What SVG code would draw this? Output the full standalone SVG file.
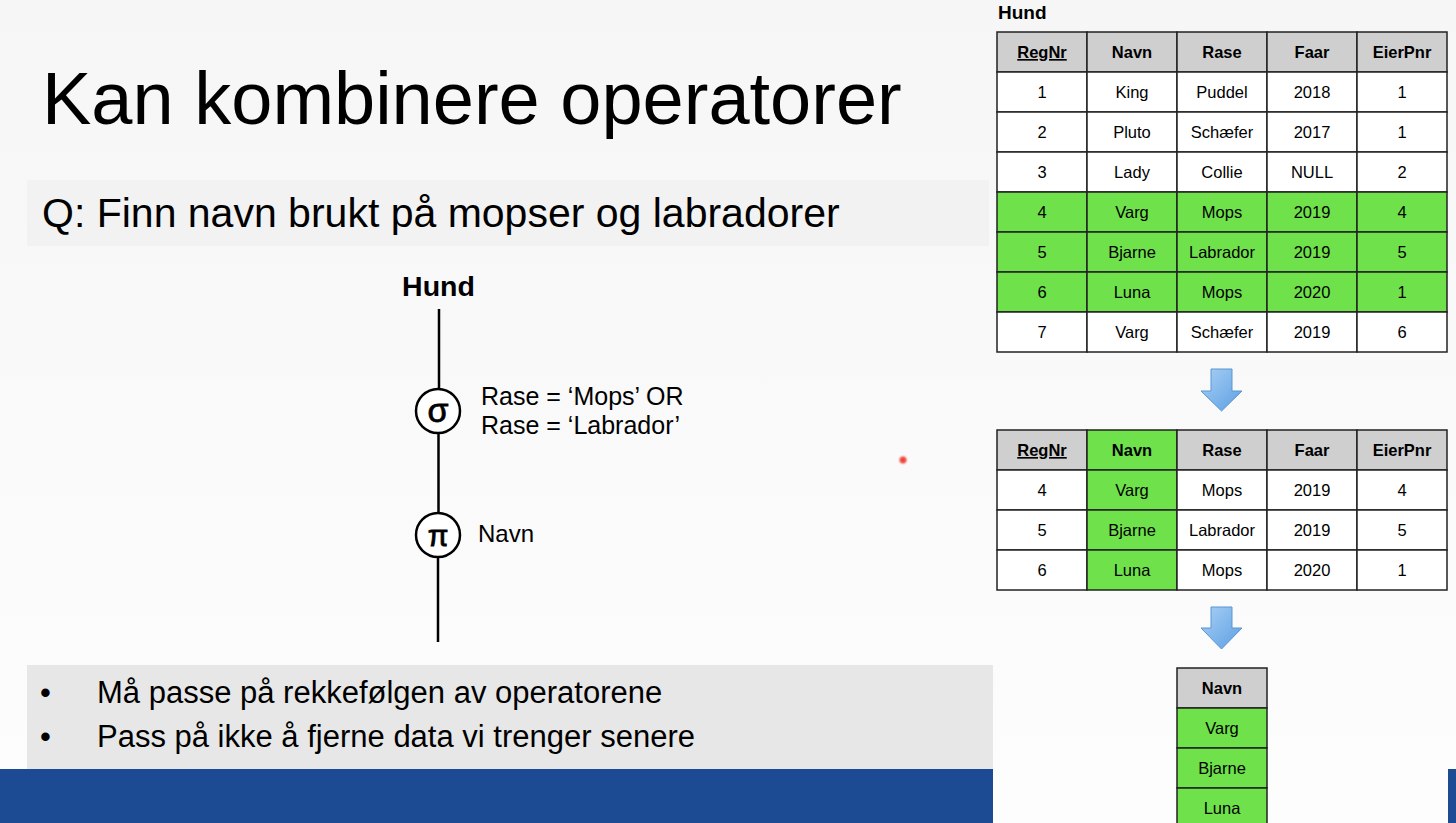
<svg xmlns="http://www.w3.org/2000/svg" width="1456" height="823" viewBox="0 0 1456 823">
  <defs>
    <linearGradient id="bg" x1="0" y1="0" x2="0" y2="1">
      <stop offset="0" stop-color="#f6f6f6"/>
      <stop offset="1" stop-color="#fdfdfd"/>
    </linearGradient>
    <linearGradient id="arrowFill" x1="0" y1="0" x2="1" y2="1">
      <stop offset="0" stop-color="#a9d0f5"/>
      <stop offset="1" stop-color="#5c9fe2"/>
    </linearGradient>
    <radialGradient id="dot">
      <stop offset="0" stop-color="#e8332a"/>
      <stop offset="0.45" stop-color="#f06a60"/>
      <stop offset="1" stop-color="#ffffff" stop-opacity="0"/>
    </radialGradient>
    <style>
      .sans { font-family: "Liberation Sans", Arial, sans-serif; fill: #000; }
      .cell { stroke: #222; stroke-width: 1.5; }
      .hdr { fill: #cfcfcf; }
      .wht { fill: #ffffff; }
      .grn { fill: #6fe14b; }
      .th { font-family: "Liberation Sans", Arial, sans-serif; font-size: 16.5px; font-weight: bold; text-anchor: middle; }
      .td { font-family: "Liberation Sans", Arial, sans-serif; font-size: 16.5px; text-anchor: middle; }
      .edge { stroke: #000; stroke-width: 2.5; fill: none; }
      .op { fill: #fff; stroke: #000; stroke-width: 2.5; }
      .flow { fill: url(#arrowFill); stroke: #5a95d3; stroke-width: 1; }
    </style>
  </defs>

  <!-- slide background -->
  <rect x="0" y="0" width="1456" height="823" fill="url(#bg)"/>

  <!-- title -->
  <text class="sans" x="42" y="124" font-size="74">Kan kombinere operatorer</text>

  <!-- question -->
  <rect x="27" y="180" width="962" height="66" fill="#f2f2f2"/>
  <text class="sans" x="42" y="227" font-size="41">Q: Finn navn brukt på mopser og labradorer</text>

  <!-- bullet box and footer band -->
  <rect x="27" y="665" width="966" height="104" fill="#e7e7e7"/>
  <text class="sans" x="40" y="703" font-size="31">•</text>
  <text class="sans" x="97" y="703" font-size="31">Må passe på rekkefølgen av operatorene</text>
  <text class="sans" x="40" y="747" font-size="31">•</text>
  <text class="sans" x="97" y="747" font-size="31">Pass på ikke å fjerne data vi trenger senere</text>
  <rect x="0" y="769" width="993" height="54" fill="#1c4b94"/>
  <rect x="1448" y="769" width="8" height="54" fill="#1c4b94"/>

  <!-- query tree connectors -->
  <g id="connectors">
    <line class="edge" x1="439" y1="309" x2="439" y2="389"/>
    <line class="edge" x1="438.5" y1="433" x2="438.5" y2="513"/>
    <line class="edge" x1="438" y1="557" x2="438" y2="642"/>
  </g>

  <!-- query tree nodes -->
  <g id="node-hund">
    <text class="sans" x="438.5" y="296" font-size="28.5" font-weight="bold" text-anchor="middle">Hund</text>
  </g>
  <g id="node-select">
    <circle class="op" cx="438" cy="411" r="22"/>
    <text class="sans" x="438" y="422" font-size="34" text-anchor="middle" stroke="#000" stroke-width="0.8">σ</text>
    <text class="sans" x="481" y="405" font-size="25">Rase = ‘Mops’ OR</text>
    <text class="sans" x="481" y="434" font-size="25">Rase = ‘Labrador’</text>
  </g>
  <g id="node-project">
    <circle class="op" cx="438" cy="535" r="22"/>
    <text class="sans" x="438" y="546" font-size="30" text-anchor="middle" stroke="#000" stroke-width="0.8">π</text>
    <text class="sans" x="478" y="542" font-size="24">Navn</text>
  </g>

  <!-- pointer dot -->
  <circle cx="903" cy="460" r="6" fill="url(#dot)"/>

  <!-- input relation -->
  <g id="table-hund">
    <text class="sans" x="998" y="19" font-size="19" font-weight="bold">Hund</text>
    <g class="cell">
      <rect class="hdr" x="997" y="32" width="90" height="40"/>
      <rect class="hdr" x="1087" y="32" width="90" height="40"/>
      <rect class="hdr" x="1177" y="32" width="90" height="40"/>
      <rect class="hdr" x="1267" y="32" width="90" height="40"/>
      <rect class="hdr" x="1357" y="32" width="90" height="40"/>

      <rect class="wht" x="997" y="72" width="90" height="40"/>
      <rect class="wht" x="1087" y="72" width="90" height="40"/>
      <rect class="wht" x="1177" y="72" width="90" height="40"/>
      <rect class="wht" x="1267" y="72" width="90" height="40"/>
      <rect class="wht" x="1357" y="72" width="90" height="40"/>

      <rect class="wht" x="997" y="112" width="90" height="40"/>
      <rect class="wht" x="1087" y="112" width="90" height="40"/>
      <rect class="wht" x="1177" y="112" width="90" height="40"/>
      <rect class="wht" x="1267" y="112" width="90" height="40"/>
      <rect class="wht" x="1357" y="112" width="90" height="40"/>

      <rect class="wht" x="997" y="152" width="90" height="40"/>
      <rect class="wht" x="1087" y="152" width="90" height="40"/>
      <rect class="wht" x="1177" y="152" width="90" height="40"/>
      <rect class="wht" x="1267" y="152" width="90" height="40"/>
      <rect class="wht" x="1357" y="152" width="90" height="40"/>

      <rect class="grn" x="997" y="192" width="90" height="40"/>
      <rect class="grn" x="1087" y="192" width="90" height="40"/>
      <rect class="grn" x="1177" y="192" width="90" height="40"/>
      <rect class="grn" x="1267" y="192" width="90" height="40"/>
      <rect class="grn" x="1357" y="192" width="90" height="40"/>

      <rect class="grn" x="997" y="232" width="90" height="40"/>
      <rect class="grn" x="1087" y="232" width="90" height="40"/>
      <rect class="grn" x="1177" y="232" width="90" height="40"/>
      <rect class="grn" x="1267" y="232" width="90" height="40"/>
      <rect class="grn" x="1357" y="232" width="90" height="40"/>

      <rect class="grn" x="997" y="272" width="90" height="40"/>
      <rect class="grn" x="1087" y="272" width="90" height="40"/>
      <rect class="grn" x="1177" y="272" width="90" height="40"/>
      <rect class="grn" x="1267" y="272" width="90" height="40"/>
      <rect class="grn" x="1357" y="272" width="90" height="40"/>

      <rect class="wht" x="997" y="312" width="90" height="40"/>
      <rect class="wht" x="1087" y="312" width="90" height="40"/>
      <rect class="wht" x="1177" y="312" width="90" height="40"/>
      <rect class="wht" x="1267" y="312" width="90" height="40"/>
      <rect class="wht" x="1357" y="312" width="90" height="40"/>
    </g>
    <text class="th" x="1042" y="58" text-decoration="underline">RegNr</text>
    <text class="th" x="1132" y="58">Navn</text>
    <text class="th" x="1222" y="58">Rase</text>
    <text class="th" x="1312" y="58">Faar</text>
    <text class="th" x="1402" y="58">EierPnr</text>

    <text class="td" x="1042" y="98">1</text><text class="td" x="1132" y="98">King</text><text class="td" x="1222" y="98">Puddel</text><text class="td" x="1312" y="98">2018</text><text class="td" x="1402" y="98">1</text>
    <text class="td" x="1042" y="138">2</text><text class="td" x="1132" y="138">Pluto</text><text class="td" x="1222" y="138">Schæfer</text><text class="td" x="1312" y="138">2017</text><text class="td" x="1402" y="138">1</text>
    <text class="td" x="1042" y="178">3</text><text class="td" x="1132" y="178">Lady</text><text class="td" x="1222" y="178">Collie</text><text class="td" x="1312" y="178">NULL</text><text class="td" x="1402" y="178">2</text>
    <text class="td" x="1042" y="218">4</text><text class="td" x="1132" y="218">Varg</text><text class="td" x="1222" y="218">Mops</text><text class="td" x="1312" y="218">2019</text><text class="td" x="1402" y="218">4</text>
    <text class="td" x="1042" y="258">5</text><text class="td" x="1132" y="258">Bjarne</text><text class="td" x="1222" y="258">Labrador</text><text class="td" x="1312" y="258">2019</text><text class="td" x="1402" y="258">5</text>
    <text class="td" x="1042" y="298">6</text><text class="td" x="1132" y="298">Luna</text><text class="td" x="1222" y="298">Mops</text><text class="td" x="1312" y="298">2020</text><text class="td" x="1402" y="298">1</text>
    <text class="td" x="1042" y="338">7</text><text class="td" x="1132" y="338">Varg</text><text class="td" x="1222" y="338">Schæfer</text><text class="td" x="1312" y="338">2019</text><text class="td" x="1402" y="338">6</text>
  </g>

  <!-- step arrows -->
  <g id="flow-arrows">
    <polygon class="flow" points="1211,369 1232,369 1232,391 1242,391 1221.5,411 1201,391 1211,391"/>
    <polygon class="flow" points="1211,607 1232,607 1232,628 1242,628 1221.5,649 1201,628 1211,628"/>
  </g>

  <!-- after selection -->
  <g id="table-selected">
    <g class="cell">
      <rect class="hdr" x="997" y="430" width="90" height="40"/>
      <rect class="grn" x="1087" y="430" width="90" height="40"/>
      <rect class="hdr" x="1177" y="430" width="90" height="40"/>
      <rect class="hdr" x="1267" y="430" width="90" height="40"/>
      <rect class="hdr" x="1357" y="430" width="90" height="40"/>

      <rect class="wht" x="997" y="470" width="90" height="40"/>
      <rect class="grn" x="1087" y="470" width="90" height="40"/>
      <rect class="wht" x="1177" y="470" width="90" height="40"/>
      <rect class="wht" x="1267" y="470" width="90" height="40"/>
      <rect class="wht" x="1357" y="470" width="90" height="40"/>

      <rect class="wht" x="997" y="510" width="90" height="40"/>
      <rect class="grn" x="1087" y="510" width="90" height="40"/>
      <rect class="wht" x="1177" y="510" width="90" height="40"/>
      <rect class="wht" x="1267" y="510" width="90" height="40"/>
      <rect class="wht" x="1357" y="510" width="90" height="40"/>

      <rect class="wht" x="997" y="550" width="90" height="40"/>
      <rect class="grn" x="1087" y="550" width="90" height="40"/>
      <rect class="wht" x="1177" y="550" width="90" height="40"/>
      <rect class="wht" x="1267" y="550" width="90" height="40"/>
      <rect class="wht" x="1357" y="550" width="90" height="40"/>
    </g>
    <text class="th" x="1042" y="456" text-decoration="underline">RegNr</text>
    <text class="th" x="1132" y="456">Navn</text>
    <text class="th" x="1222" y="456">Rase</text>
    <text class="th" x="1312" y="456">Faar</text>
    <text class="th" x="1402" y="456">EierPnr</text>

    <text class="td" x="1042" y="496">4</text><text class="td" x="1132" y="496">Varg</text><text class="td" x="1222" y="496">Mops</text><text class="td" x="1312" y="496">2019</text><text class="td" x="1402" y="496">4</text>
    <text class="td" x="1042" y="536">5</text><text class="td" x="1132" y="536">Bjarne</text><text class="td" x="1222" y="536">Labrador</text><text class="td" x="1312" y="536">2019</text><text class="td" x="1402" y="536">5</text>
    <text class="td" x="1042" y="576">6</text><text class="td" x="1132" y="576">Luna</text><text class="td" x="1222" y="576">Mops</text><text class="td" x="1312" y="576">2020</text><text class="td" x="1402" y="576">1</text>
  </g>

  <!-- after projection -->
  <g id="table-projected">
    <g class="cell">
      <rect class="hdr" x="1177" y="668" width="90" height="40"/>
      <rect class="grn" x="1177" y="708" width="90" height="40"/>
      <rect class="grn" x="1177" y="748" width="90" height="40"/>
      <rect class="grn" x="1177" y="788" width="90" height="40"/>
    </g>
    <text class="th" x="1222" y="694">Navn</text>
    <text class="td" x="1222" y="734">Varg</text>
    <text class="td" x="1222" y="774">Bjarne</text>
    <text class="td" x="1222" y="814">Luna</text>
  </g>
</svg>
